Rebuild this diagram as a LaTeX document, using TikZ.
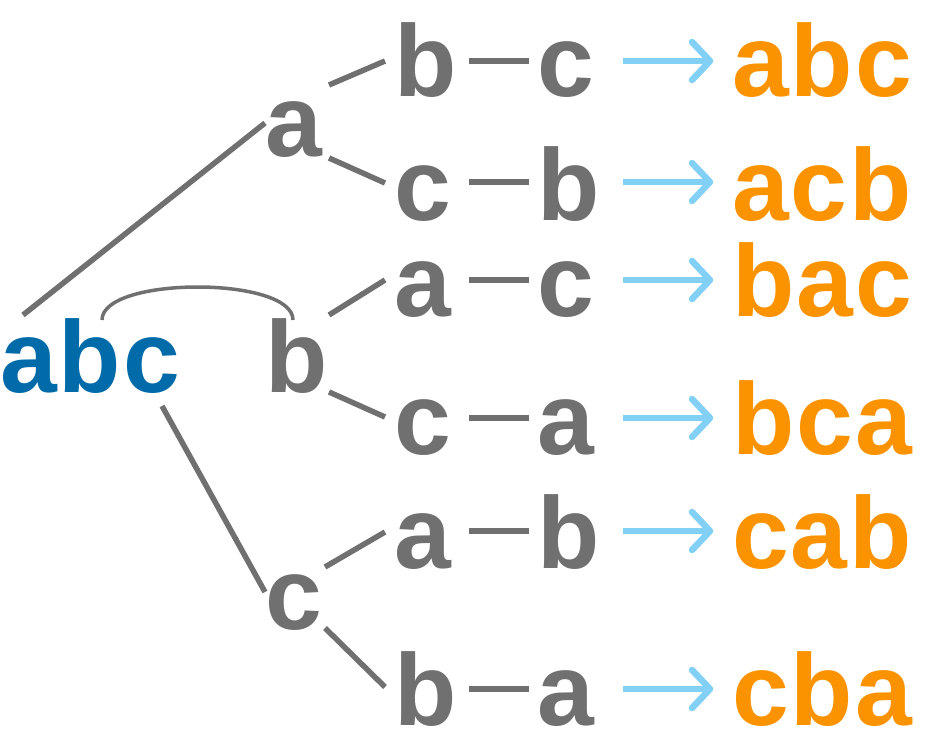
\documentclass[tikz,border=0pt]{standalone}
\usepackage{fontspec}
\setmainfont{Liberation Sans}
\definecolor{tgray}{RGB}{112,112,112}
\definecolor{tblue}{RGB}{0,107,168}
\definecolor{torange}{RGB}{251,146,0}
\definecolor{tsky}{RGB}{130,208,245}
\newcommand{\tk}{\kern2pt}
\begin{document}
\begin{tikzpicture}[x=1pt,y=-1pt,
  lt/.style={inner sep=0pt,outer sep=0pt,anchor=base west,font=\bfseries\fontsize{102pt}{102pt}\selectfont},
  gl/.style={lt,text=tgray},
  rootl/.style={lt,text=tblue},
  res/.style={lt,text=torange},
  tree/.style={draw=tgray,line width=5.5pt},
  link/.style={draw=tgray,line width=6.3pt},
  swap/.style={draw=tgray,line width=3.5pt},
  shaft/.style={draw=tsky,line width=6.5pt},
  head/.style={draw=tsky,line width=6.5pt,line cap=round,line join=round}]
\useasboundingbox (0,0) rectangle (926,749);

% root and level 1
\node[rootl] (root) at (0,392) {a\tk b\tk c};
\node[gl] (la) at (265,157) {a};
\node[gl] (lb) at (265,392) {b};
\node[gl] (lc) at (265,629) {c};

% column 2
\node[gl] (m1) at (394,97) {b};
\node[gl] (m2) at (394,220) {c};
\node[gl] (m3) at (394,316) {a};
\node[gl] (m4) at (394,454) {c};
\node[gl] (m5) at (394,568) {a};
\node[gl] (m6) at (394,725) {b};

% column 3
\node[gl] (e1) at (537,97) {c};
\node[gl] (e2) at (537,220) {b};
\node[gl] (e3) at (537,316) {c};
\node[gl] (e4) at (537,454) {a};
\node[gl] (e5) at (537,568) {b};
\node[gl] (e6) at (537,725) {a};

% results
\node[res] (p1) at (732,97) {a\tk b\tk c};
\node[res] (p2) at (732,220) {a\tk c\tk b};
\node[res] (p3) at (732,316) {b\tk a\tk c};
\node[res] (p4) at (732,454) {b\tk c\tk a};
\node[res] (p5) at (732,568) {c\tk a\tk b};
\node[res] (p6) at (732,725) {c\tk b\tk a};

% connector end points
\coordinate (ra0) at (23,315);   \coordinate (ra1) at (265,123);
\coordinate (rc0) at (162,406);  \coordinate (rc1) at (265,592);
\coordinate (a10) at (329,85);   \coordinate (a11) at (385,61);
\coordinate (a20) at (329,158);  \coordinate (a21) at (385,183);
\coordinate (b30) at (329,315);  \coordinate (b31) at (385,280);
\coordinate (b40) at (329,392);  \coordinate (b41) at (385,417);
\coordinate (c50) at (325,567);  \coordinate (c51) at (385,532);
\coordinate (c60) at (325,628);  \coordinate (c61) at (385,687);
\coordinate (sw0) at (102,320);  \coordinate (sw1) at (293,320);

\draw[tree] (ra0) -- (ra1);
\draw[tree] (rc0) -- (rc1);
\draw[tree] (a10) -- (a11);
\draw[tree] (a20) -- (a21);
\draw[tree] (b30) -- (b31);
\draw[tree] (b40) -- (b41);
\draw[tree] (c50) -- (c51);
\draw[tree] (c60) -- (c61);
\draw[swap] (sw0) .. controls (102,276) and (293,276) .. (sw1);

% dashes and arrows per row
\foreach \i/\y in {1/61,2/182,3/280,4/418,5/531,6/689}{
  \coordinate (d\i0) at (469,\y); \coordinate (d\i1) at (529,\y);
  \draw[link] (d\i0) -- (d\i1);
  \coordinate (s\i0) at (623,\y); \coordinate (s\i1) at (710,\y);
  \draw[shaft] (s\i0) -- (s\i1);
  \draw[head] (692,\y-19) -- (s\i1) -- (692,\y+19);
}
\end{tikzpicture}
\end{document}
